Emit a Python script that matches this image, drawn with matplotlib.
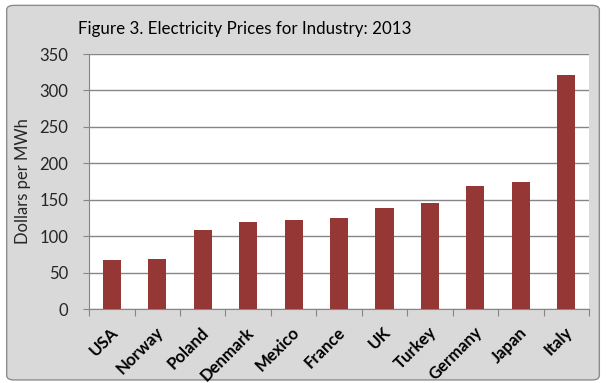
import matplotlib
matplotlib.use("Agg")
import matplotlib.pyplot as plt
from matplotlib.patches import FancyBboxPatch

countries = ["USA", "Norway", "Poland", "Denmark", "Mexico", "France", "UK",
             "Turkey", "Germany", "Japan", "Italy"]
prices = [68, 69, 109, 119, 122, 125, 139, 146, 169, 174, 321]
yticks = [0, 50, 100, 150, 200, 250, 300, 350]
title = "Figure 3. Electricity Prices for Industry: 2013"
ylabel = "Dollars per MWh"

plt.rcParams['font.family'] = ['Lato', 'DejaVu Sans']

fig = plt.figure(figsize=(6.06, 3.83), dpi=100)
fig.patch.set_facecolor("white")
border = FancyBboxPatch((0.011, 0.008), 0.978, 0.978, boxstyle="round,pad=0,rounding_size=0.012",
                        transform=fig.transFigure, facecolor="#d9d9d9", edgecolor="#8c8c8c",
                        linewidth=1.0, zorder=-5)
fig.patches.append(border)

ax = fig.add_axes([0.147, 0.193, 0.825, 0.666])
ax.set_zorder(1)
ax.set_facecolor("white")
x = range(len(countries))
ax.bar(x, prices, width=0.4, color="#953735", zorder=3)
ax.set_xlim(-0.5, len(countries) - 0.5)
ax.set_ylim(0, 350)
ax.set_yticks(yticks)
ax.set_yticklabels([str(v) for v in yticks], fontsize=12, color="#262626")
ax.yaxis.grid(True, color="#868686", linewidth=1.0, zorder=0)
ax.set_axisbelow(True)
for s in ["top", "right"]:
    ax.spines[s].set_visible(False)
for s in ["left", "bottom"]:
    ax.spines[s].set_color("#868686")
ax.tick_params(axis="y", length=4, color="#868686", pad=11)
ax.set_xticks([i - 0.5 for i in range(len(countries) + 1)], minor=False)
ax.set_xticklabels([])
ax.tick_params(axis="x", length=5, color="#868686")
ax.set_xticks([i + 0.08 for i in x], minor=True)
ax.set_xticklabels(countries, minor=True, rotation=45, ha="right", va="center",
                   rotation_mode="anchor", fontsize=12, fontweight="bold", color="black")
ax.tick_params(axis="x", which="minor", length=0, pad=15)
ax.set_ylabel(ylabel, fontsize=12, color="#262626", labelpad=6)
fig.text(0.129, 0.925, title, fontsize=12.2, color="black", ha="left", va="center")

fig.savefig("out.png", dpi=100, facecolor=fig.get_facecolor())
